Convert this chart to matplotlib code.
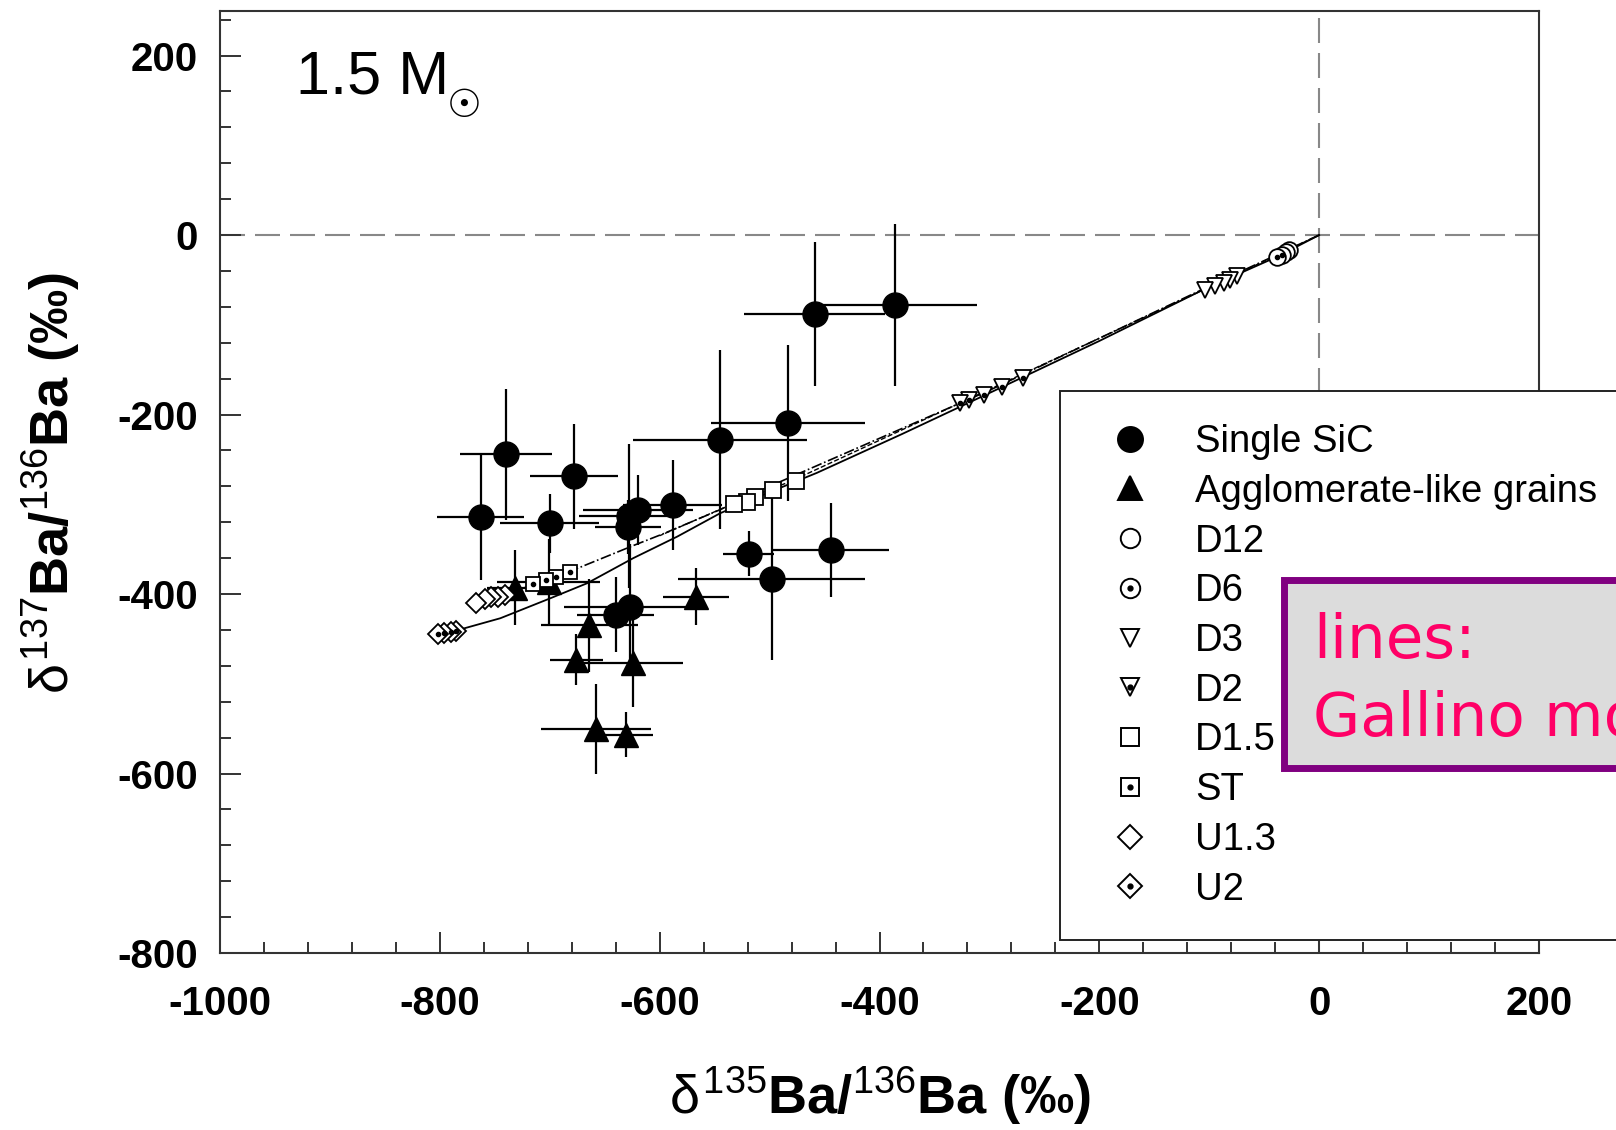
import matplotlib
matplotlib.use('Agg')
import matplotlib.pyplot as plt
from matplotlib.lines import Line2D
from matplotlib.patches import Rectangle
from matplotlib.ticker import MultipleLocator

plt.rcParams['font.family'] = ['Liberation Sans', 'DejaVu Sans']
plt.rcParams['mathtext.fontset'] = 'custom'
plt.rcParams['mathtext.rm'] = 'Liberation Sans'
plt.rcParams['mathtext.it'] = 'Liberation Sans'
plt.rcParams['mathtext.bf'] = 'Liberation Sans:bold'
plt.rcParams['axes.unicode_minus'] = False

# single SiC grains (d135, d137) with 2-sigma errors
sic_x = [-386, -459, -483, -545, -740, -763, -678, -700, -628, -620, -629,
         -588, -519, -498, -444, -640, -627]
sic_y = [-78, -88, -209, -228, -244, -314, -269, -321, -313, -306, -325,
         -301, -355, -383, -351, -423, -414]
sic_xerr = [75, 64, 70, 79, 42, 40, 40, 45, 45, 50, 30, 45, 23, 85, 53, 35, 60]
sic_yerr = [90, 80, 87, 100, 73, 70, 58, 33, 80, 39, 30, 50, 25, 90, 52, 42, 70]

# agglomerate-like grains
agg_x = [-732, -664, -676, -624, -658, -631, -567, -701]
agg_y = [-393, -435, -473, -477, -550, -557, -403, -387]
agg_xerr = [25, 44, 24, 45, 50, 25, 30, 47]
agg_yerr = [42, 52, 28, 49, 50, 25, 32, 48]

# Gallino model predictions, 13C pocket cases
d12_x = [-27, -30]
d12_y = [-17, -19]
d6_x = [-34, -38]
d6_y = [-22, -25]
d3_x = [-75, -81, -87, -95, -104]
d3_y = [-46, -50, -53.5, -57, -61]
d2_x = [-269, -289, -305, -319, -327]
d2_y = [-159.5, -169, -178, -184, -187.5]
d15_x = [-476, -497, -513, -521, -532]
d15_y = [-274, -284, -292, -297, -300]
st_x = [-682, -694, -703, -715]
st_y = [-375, -381, -384, -389]
u13_x = [-741, -747, -753, -759, -767]
u13_y = [-401, -403, -403, -405, -410]
u2_x = [-785, -790, -796, -802]
u2_y = [-441, -442, -443, -444]

# model lines
line1_x = [0, -38, -104, -200, -300, -380, -457, -503, -545, -584, -624, -666,
           -700, -745, -783, -795]
line1_y = [0, -24, -60, -118, -176, -222, -265, -288, -310, -336, -360, -388,
           -405, -427, -440, -443]
line2_x = [0, -100, -300, -500, -545, -597, -624, -672, -705, -767]
line2_y = [0, -57, -173, -280, -306, -333, -346, -370, -386, -410]
line3_x = [0, -100, -300, -480, -540, -600]
line3_y = [0, -58, -172, -274, -303, -335]

W, H = 1616, 1130
fig = plt.figure(figsize=(W / 100, H / 100), dpi=100)
ax = fig.add_axes([220 / W, 1 - 953 / H, (1539 - 220) / W, (953 - 10.7) / H])

ax.axhline(0, color='#888888', lw=1.5, dashes=(12, 4.8), zorder=1)
ax.axvline(0, color='#888888', lw=1.5, dashes=(12, 4.8), zorder=1)

ax.errorbar(sic_x, sic_y, xerr=sic_xerr, yerr=sic_yerr, fmt='o', color='black',
            ms=18, elinewidth=1.6, capsize=0, zorder=2)
ax.errorbar(agg_x, agg_y, xerr=agg_xerr, yerr=agg_yerr, fmt='^', color='black',
            ms=17, elinewidth=1.6, capsize=0, zorder=2)

ax.plot(line1_x, line1_y, color='black', lw=1.3, zorder=3)
ax.plot(line2_x, line2_y, color='black', lw=1.2, ls='-.', zorder=3)
ax.plot(line3_x, line3_y, color='black', lw=1.0, ls='--', zorder=3)

mk = dict(color='black', ls='', mfc='white', mew=1.3, zorder=4)
dot = dict(color='black', ls='', marker='o', ms=3, zorder=5)


def model(xs, ys, marker, size, dotted):
    for x, y in zip(xs, ys):
        ax.plot([x], [y], marker=marker, ms=size, **mk)
        if dotted:
            ax.plot([x], [y], **dot)


model(d12_x, d12_y, 'o', 12, False)
model(d6_x, d6_y, 'o', 12, True)
model(d3_x, d3_y, 'v', 11, False)
model(d2_x, d2_y, 'v', 11, True)
model(d15_x, d15_y, 's', 11, False)
model(st_x, st_y, 's', 10, True)
model(u13_x, u13_y, 'D', 10, False)
model(u2_x, u2_y, 'D', 10, True)

ax.set_xlim(-1000, 200)
ax.set_ylim(-800, 250)
ax.xaxis.set_major_locator(MultipleLocator(200))
ax.xaxis.set_minor_locator(MultipleLocator(40))
ax.yaxis.set_major_locator(MultipleLocator(200))
ax.yaxis.set_minor_locator(MultipleLocator(40))
ax.tick_params(which='both', direction='in', top=False, right=False, width=1.4,
               colors='#333333', labelcolor='black', labelsize=29)
ax.tick_params(which='major', length=15)
ax.tick_params(which='minor', length=8)
ax.tick_params(axis='x', pad=23)
ax.tick_params(axis='y', pad=16)
for lab in ax.get_xticklabels() + ax.get_yticklabels():
    lab.set_fontweight('bold')
for sp in ax.spines.values():
    sp.set_linewidth(1.5)
    sp.set_color('#333333')

fig.text(880 / W, 1 - 1096 / H, r'$\delta^{135}\mathbf{Ba/}^{136}\mathbf{Ba\ (‰)}$',
         ha='center', va='center', fontsize=39)
fig.text(51 / W, 1 - 483 / H, r'$\delta^{137}\mathbf{Ba/}^{136}\mathbf{Ba\ (‰)}$',
         ha='center', va='center', fontsize=39, rotation=90)

fig.text(296 / W, 1 - 93 / H, '1.5 M', fontsize=44, va='baseline')
fig.text(464 / W, 1 - 106 / H, '\u2609', fontsize=28, ha='center', va='center',
         family='DejaVu Sans')

# legend box (runs past the right edge)
fig.patches.append(Rectangle((1060 / W, 1 - 940 / H), 700 / W, (940 - 391) / H,
                             transform=fig.transFigure, facecolor='white',
                             edgecolor='#222222', lw=1.4, zorder=2))

def handle(marker, size, fill, dotted):
    h = Line2D([], [], marker=marker, ms=size, color='black', ls='', mfc=fill, mew=1.4)
    if dotted:
        return (h, Line2D([], [], marker='o', ms=3.5, color='black', ls=''))
    return h

handles = [handle('o', 18, 'black', False), handle('^', 17, 'black', False),
           handle('o', 14, 'white', False), handle('o', 14, 'white', True),
           handle('v', 13, 'white', False), handle('v', 13, 'white', True),
           handle('s', 13, 'white', False), handle('s', 13, 'white', True),
           handle('D', 12, 'white', False), handle('D', 12, 'white', True)]
labels = ['Single SiC', 'Agglomerate-like grains', 'D12', 'D6', 'D3', 'D2',
          'D1.5', 'ST', 'U1.3', 'U2']
leg = fig.legend(handles, labels, loc='upper left',
                 bbox_to_anchor=(1107 / W, 1 - 424 / H), frameon=False,
                 fontsize=27.5, handlelength=1.2, handletextpad=1.1,
                 labelspacing=0.36, borderpad=0, borderaxespad=0)
leg.set_zorder(5)

# note box
fig.patches.append(Rectangle((1284 / W, 1 - 768 / H), 500 / W, (768 - 580) / H,
                             transform=fig.transFigure, facecolor='#DCDCDC',
                             edgecolor='#800080', lw=5, zorder=6))
fig.text(1313 / W, 1 - 658 / H, 'lines:', fontsize=44, color='#FF0066',
         family='DejaVu Sans', va='baseline', zorder=7)
fig.text(1313 / W, 1 - 736 / H, 'Gallino models', fontsize=44, color='#FF0066',
         family='DejaVu Sans', va='baseline', zorder=7)

fig.savefig('out.png', dpi=100)
